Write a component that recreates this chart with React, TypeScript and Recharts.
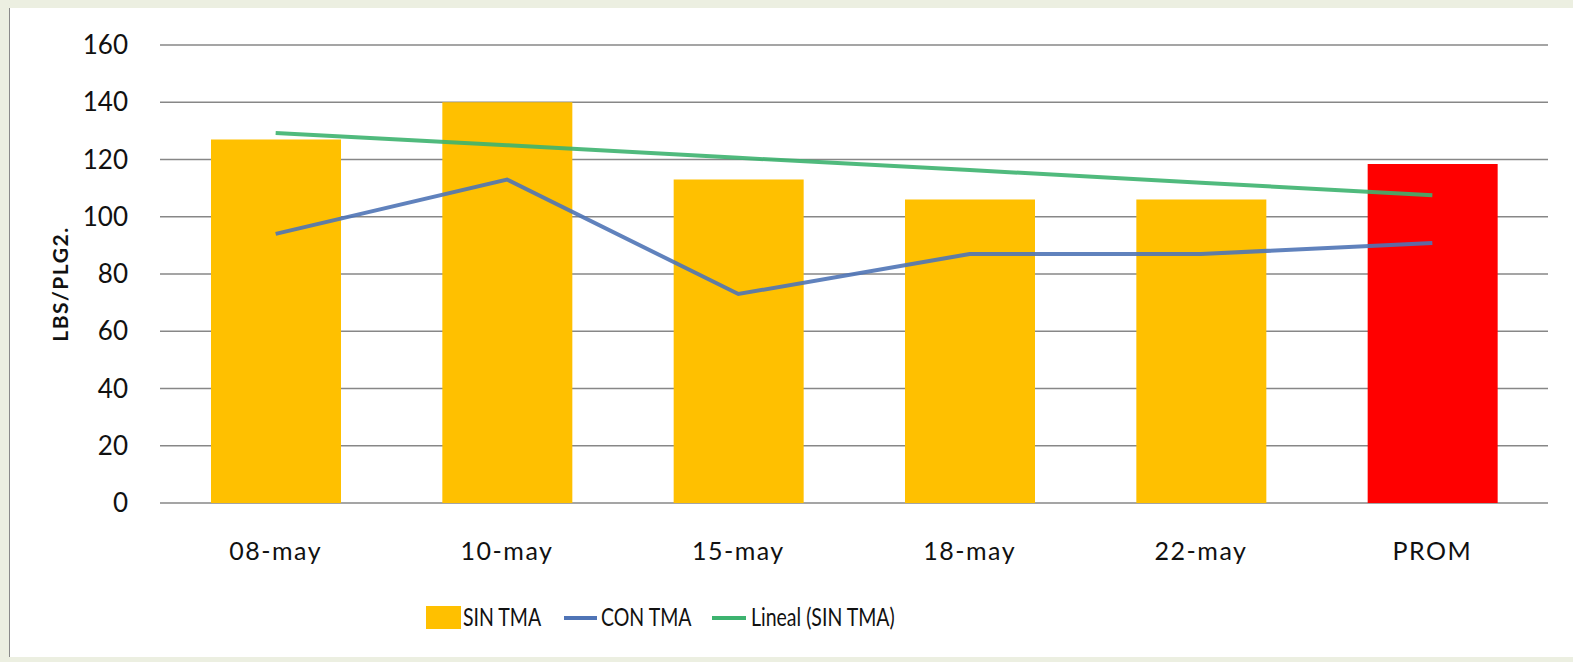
import React from 'react';
import { ComposedChart, Bar, Line, XAxis, YAxis, CartesianGrid, Cell, Label } from 'recharts';

const categories = ['08-may', '10-may', '15-may', '18-may', '22-may', 'PROM'];
const sinTma = [127, 140, 113, 106, 106, 118.4];
const conTma = [94, 113, 73, 87, 87, 90.8];
const linealSinTma = [129.3, 125, 120.6, 116.3, 111.9, 107.5];
const yTicks = [0, 20, 40, 60, 80, 100, 120, 140, 160];
const barColors = ['#FFC000', '#FFC000', '#FFC000', '#FFC000', '#FFC000', '#FF0000'];

const data = categories.map((c, i) => ({ cat: c, sin: sinTma[i], con: conTma[i], trend: linealSinTma[i] }));

const FONT = 'Lato, "Open Sans", sans-serif';

const legendText: React.CSSProperties = {
  position: 'absolute', top: -4, fontSize: 25, transform: 'scaleX(0.78)', transformOrigin: 'left center', whiteSpace: 'nowrap',
};

export default function App() {
  return (
    <div style={{ position: 'absolute', left: 0, top: 0, width: 1573, height: 662, background: '#ECEFE1', overflow: 'hidden' }}>
      <div style={{ position: 'absolute', left: 9, top: 8, width: 1564, height: 649, background: '#FFFFFF', borderLeft: '1px solid #8a8a8a', boxSizing: 'border-box' }}>
        <ComposedChart width={1563} height={649} data={data} margin={{ top: 37, right: 25, left: 80, bottom: 90 }} style={{ fontFamily: FONT }}>
          <CartesianGrid vertical={false} stroke="#878787" strokeWidth={1.5} />
          <XAxis dataKey="cat" axisLine={false} tickLine={false} tickMargin={33} height={64}
            tick={{ fill: '#111', fontSize: 25, fontFamily: FONT, letterSpacing: 1.5 }} />
          <YAxis domain={[0, 160]} ticks={yTicks} axisLine={false} tickLine={false} tickSize={0} tickMargin={32} width={70}
            tick={{ fill: '#111', fontSize: 26, fontFamily: FONT }}>
            <Label value="LBS/PLG2." angle={-90} position="insideLeft" offset={-29} dy={10} style={{ fill: '#111', fontSize: 21, fontWeight: 700, fontFamily: FONT, textAnchor: 'middle', letterSpacing: 1.5 }} />
          </YAxis>
          <Bar dataKey="sin" barSize={130} isAnimationActive={false}>
            {data.map((d, i) => <Cell key={d.cat} fill={barColors[i]} />)}
          </Bar>
          <Line dataKey="con" stroke="#4F74B6" strokeWidth={4} dot={false} isAnimationActive={false} strokeOpacity={0.9} />
          <Line dataKey="trend" stroke="#3DB36F" strokeWidth={4} dot={false} isAnimationActive={false} strokeOpacity={0.9} />
        </ComposedChart>
        <div style={{ position: 'absolute', top: 597, left: 0, width: 1564, height: 30, fontFamily: FONT, color: '#111' }}>
          <div style={{ position: 'absolute', left: 416, top: 1, width: 35, height: 23, background: '#FFC000' }} />
          <div style={{ ...legendText, left: 453 }}>SIN TMA</div>
          <div style={{ position: 'absolute', left: 554, top: 11, width: 33, height: 4, background: '#4F74B6' }} />
          <div style={{ ...legendText, left: 591 }}>CON TMA</div>
          <div style={{ position: 'absolute', left: 702, top: 11, width: 34, height: 4, background: '#3DB36F' }} />
          <div style={{ ...legendText, left: 741 }}>Lineal (SIN TMA)</div>
        </div>
      </div>
    </div>
  );
}
